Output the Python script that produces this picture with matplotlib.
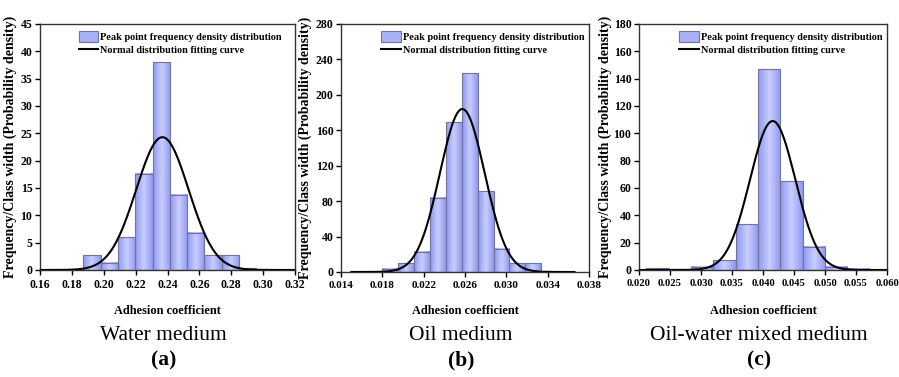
import numpy as np
import matplotlib
matplotlib.use("Agg")
import matplotlib.pyplot as plt
from matplotlib.colors import LinearSegmentedColormap
from matplotlib.patches import Patch
from matplotlib.lines import Line2D

plt.rcParams['font.family'] = ['Liberation Serif', 'DejaVu Serif']

# ---------------- data ----------------
# (a) Water medium
a_bin_start = 0.1872
a_bin_width = 0.01085
a_heights = [2.7, 1.3, 6.0, 17.6, 38.0, 13.8, 6.8, 2.7, 2.7, 0.3]
a_mu, a_sigma = 0.2368, 0.01642
a_curve_range = (0.16, 0.32)

# (b) Oil medium
b_bin_start = 0.01797
b_bin_width = 0.001542
b_heights = [3.4, 9.8, 22.6, 84.0, 169.0, 224.5, 91.0, 26.0, 9.8, 9.8]
b_mu, b_sigma = 0.02574, 0.002168
b_curve_range = (0.015, 0.0366)

# (c) Oil-water mixed medium
c_bin_start = 0.02118
c_bin_width = 0.0036
c_heights = [1.2, 0.0, 2.4, 7.0, 33.5, 147.0, 65.0, 17.0, 2.4, 0.8]
c_mu, c_sigma = 0.04156, 0.00366
c_curve_range = (0.020, 0.060)

a_xticks = [0.16, 0.18, 0.20, 0.22, 0.24, 0.26, 0.28, 0.30, 0.32]
a_yticks = [0, 5, 10, 15, 20, 25, 30, 35, 40, 45]
b_xticks = [0.014, 0.018, 0.022, 0.026, 0.030, 0.034, 0.038]
b_yticks = [0, 40, 80, 120, 160, 200, 240, 280]
c_xticks = [0.020, 0.025, 0.030, 0.035, 0.040, 0.045, 0.050, 0.055, 0.060]
c_yticks = [0, 20, 40, 60, 80, 100, 120, 140, 160, 180]

media = ["Water medium", "Oil medium", "Oil-water mixed medium"]
panel_tags = ["(a)", "(b)", "(c)"]
legend_labels = ["Peak point frequency density distribution",
                 "Normal distribution fitting curve"]
xlabel = "Adhesion coefficient"
ylabel = "Frequency/Class width (Probability density)"

# ---------------- figure ----------------
W, H = 899, 377
fig = plt.figure(figsize=(W / 100, H / 100), dpi=100)

def box(l, r, t, b):
    return [l / W, (H - b) / H, (r - l) / W, (b - t) / H]

axes_px = [(40, 295, 24, 270), (341, 589, 24, 272), (639, 887, 24, 270)]
ylabel_x = [-0.09, -0.117, -0.11]
leg_x = [0.125, 0.135, 0.135]
tick_size = [8.5, 8.0, 7.6]

cmap = LinearSegmentedColormap.from_list("g", ["#9098f2", "#c8ceff", "#9098f2"])
grad = np.linspace(0, 1, 64).reshape(1, -1)

panels = [
    (a_bin_start, a_bin_width, a_heights, a_mu, a_sigma, a_curve_range, a_xticks, a_yticks, "%.2f"),
    (b_bin_start, b_bin_width, b_heights, b_mu, b_sigma, b_curve_range, b_xticks, b_yticks, "%.3f"),
    (c_bin_start, c_bin_width, c_heights, c_mu, c_sigma, c_curve_range, c_xticks, c_yticks, "%.3f"),
]

for i, (start, width, heights, mu, sigma, crange, xt, yt, fmt) in enumerate(panels):
    l, r, t, b = axes_px[i]
    ax = fig.add_axes(box(l, r, t, b))
    edges = start + width * np.arange(len(heights))
    ax.bar(edges, heights, width=width, align='edge',
           facecolor='none', edgecolor='#70749a', linewidth=0.8, zorder=3)
    for e, h in zip(edges, heights):
        if h > 0:
            ax.imshow(grad, extent=[e, e + width, 0, h], aspect='auto',
                      cmap=cmap, zorder=2, interpolation='bilinear')
    xs = np.linspace(crange[0], crange[1], 400)
    ys = np.exp(-0.5 * ((xs - mu) / sigma) ** 2) / (sigma * np.sqrt(2 * np.pi))
    ax.plot(xs, ys, color='black', linewidth=1.5, zorder=4)

    ax.set_xlim(xt[0], xt[-1])
    ax.set_ylim(yt[0], yt[-1])
    ax.set_xticks(xt)
    ax.set_xticklabels([fmt % v for v in xt])
    ax.set_yticks(yt)
    ax.set_yticklabels([str(v) for v in yt])
    ax.tick_params(axis='x', direction='out', length=3.5, width=1,
                   labelsize=tick_size[i], pad=3)
    ax.tick_params(axis='y', direction='out', length=3.5, width=1,
                   labelsize=8.5, pad=2)
    for lab in ax.get_xticklabels() + ax.get_yticklabels():
        lab.set_fontweight('bold')
    for s in ax.spines.values():
        s.set_linewidth(1.0)
        s.set_color('#333333')
    ax.set_ylabel(ylabel, fontsize=10.0, fontweight='bold')
    ax.yaxis.set_label_coords(ylabel_x[i], 0.5)

    handles = [Patch(facecolor='#aab0f8', edgecolor='#70749a', linewidth=0.8),
               Line2D([0], [0], color='black', linewidth=1.5)]
    ax.legend(handles, legend_labels, loc='upper left',
              bbox_to_anchor=(leg_x[i], 1.0), frameon=False,
              prop={'weight': 'bold', 'size': 7.4},
              handlelength=1.9, handleheight=1.3, handletextpad=0.2,
              labelspacing=0.25, borderaxespad=0.25)

    cx = (l + r) / 2 / W
    fig.text(cx, 1 - 311 / H, xlabel, ha='center', va='center',
             fontsize=8.8, fontweight='bold')
    fig.text(cx - 4 / W, 1 - 335 / H, media[i], ha='center', va='center',
             fontsize=15.5)
    fig.text(cx - 4 / W, 1 - 360 / H, panel_tags[i], ha='center', va='center',
             fontsize=15.5, fontweight='bold')

fig.savefig("out.png", dpi=100)
